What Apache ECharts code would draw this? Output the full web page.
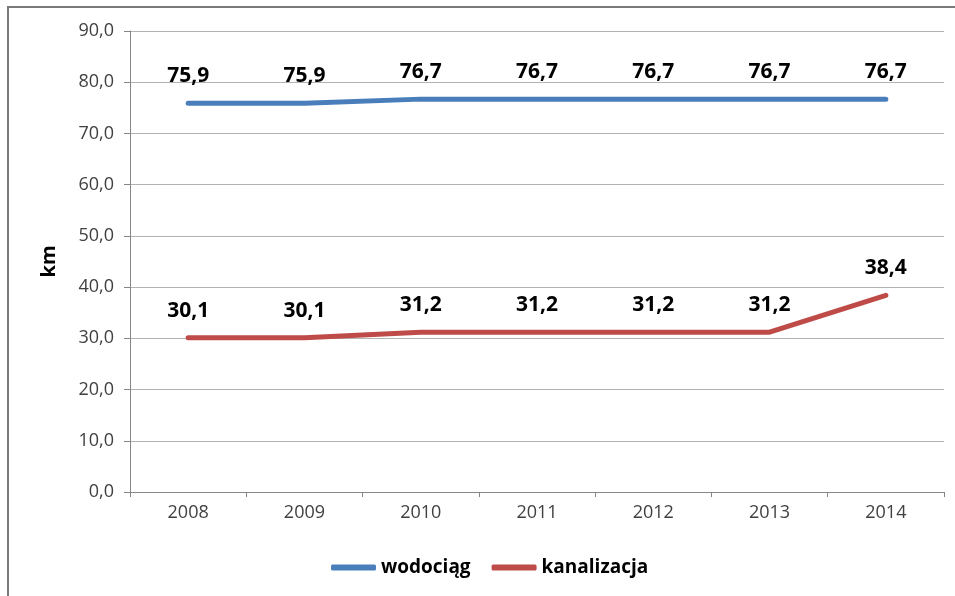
<!DOCTYPE html>
<html>
<head>
<meta charset="utf-8">
<script src="https://cdn.jsdelivr.net/npm/echarts@6/dist/echarts.min.js"></script>
<style>
    html, body { margin: 0; padding: 0; background: #fff; }
    #chart { width: 955px; height: 596px; }
</style>
</head>
<body>
<div id="chart"></div>
<script>
    // lata i długość sieci (km)
    var years = ['2008', '2009', '2010', '2011', '2012', '2013', '2014'];
    var wodociag = [75.9, 75.9, 76.7, 76.7, 76.7, 76.7, 76.7];
    var kanalizacja = [30.1, 30.1, 31.2, 31.2, 31.2, 31.2, 38.4];
    var seriesNames = ['wodociąg', 'kanalizacja'];

    function fmt(v) {
        return Number(v).toFixed(1).replace('.', ',');
    }

    var chart = echarts.init(document.getElementById('chart'));
    var font = '"Open Sans", "DejaVu Sans", sans-serif';

    var labelStyle = {
        show: true,
        position: 'top',
        distance: 16,
        fontFamily: font,
        fontSize: 21,
        fontWeight: 'bold',
        color: '#000',
        formatter: function (p) { return fmt(p.value); }
    };

    var option = {
        animation: false,
        graphic: [{
            type: 'rect',
            shape: { x: 8, y: 7, width: 960, height: 600 },
            style: { fill: 'none', stroke: '#7a7a7a', lineWidth: 2 },
            silent: true
        }],
        grid: { left: 130, right: 11, top: 31, bottom: 104 },
        legend: {
            top: 553,
            left: 326,
            itemWidth: 45,
            itemHeight: 6,
            itemGap: 21,
            icon: 'roundRect',
            textStyle: { fontFamily: font, fontSize: 19, fontWeight: 'bold', color: '#000' },
            data: seriesNames
        },
        xAxis: {
            type: 'category',
            data: years,
            boundaryGap: true,
            axisLine: { lineStyle: { color: '#868686', width: 1 } },
            axisTick: { show: true, length: 5, alignWithLabel: false, lineStyle: { color: '#868686' } },
            axisLabel: { fontFamily: font, fontSize: 18, color: '#404040', margin: 12 }
        },
        yAxis: {
            type: 'value',
            min: 0,
            max: 90,
            interval: 10,
            name: 'km',
            nameLocation: 'middle',
            nameGap: 71,
            nameRotate: 90,
            nameTextStyle: { fontFamily: font, fontSize: 20, fontWeight: 'bold', color: '#000' },
            axisLine: { show: true, lineStyle: { color: '#868686', width: 1 } },
            axisTick: { show: true, length: 6, lineStyle: { color: '#868686' } },
            splitLine: { lineStyle: { color: '#b3b3b3', width: 1 } },
            axisLabel: {
                fontFamily: font, fontSize: 18, color: '#404040', margin: 16,
                formatter: function (v) { return fmt(v); }
            }
        },
        series: [
            {
                name: seriesNames[0],
                type: 'line',
                data: wodociag,
                symbol: 'circle',
                symbolSize: 1,
                showSymbol: true,
                color: '#4a7ebb',
                lineStyle: { width: 5, cap: 'round', join: 'round' },
                label: labelStyle
            },
            {
                name: seriesNames[1],
                type: 'line',
                data: kanalizacja,
                symbol: 'circle',
                symbolSize: 1,
                showSymbol: true,
                color: '#be4b48',
                lineStyle: { width: 5, cap: 'round', join: 'round' },
                label: labelStyle
            }
        ]
    };

    chart.setOption(option);
</script>
</body>
</html>
